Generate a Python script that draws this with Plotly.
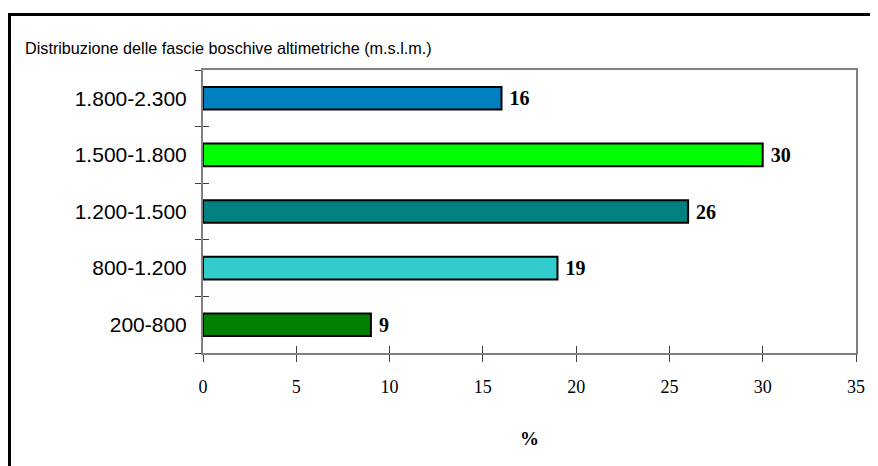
import plotly.graph_objects as go

# fasce altimetriche (dal basso verso l'alto)
fasce = ["200-800", "800-1.200", "1.200-1.500", "1.500-1.800", "1.800-2.300"]
percentuali = [9, 19, 26, 30, 16]
colori = ["#008000", "#33CCCC", "#008080", "#00FF00", "#0080C0"]

SANS = "Liberation Sans, Arial, sans-serif"
SERIF = "Liberation Serif, Times New Roman, serif"

# la pagina html ha 8px di margine: figura ridotta di 8px
W, H = 870, 458
L, R, T, B = 195, 22, 62, 113
PW, PH = W - L - R, H - T - B

fig = go.Figure()
fig.add_trace(go.Bar(
    x=percentuali, y=fasce, orientation="h", width=0.4,
    marker=dict(color=colori, line=dict(color="black", width=2)),
    texttemplate=" %{x}", textposition="outside",
    textfont=dict(family=SERIF, size=20, color="black", weight="bold"),
    cliponaxis=False, hoverinfo="skip",
))
# copia invisibile per le tacche interne degli assi
fig.add_trace(go.Bar(
    x=percentuali, y=fasce, orientation="h", width=0.4,
    marker=dict(color="rgba(0,0,0,0)", line=dict(width=0)),
    xaxis="x2", yaxis="y2", hoverinfo="skip", showlegend=False,
))

fig.update_layout(
    width=W, height=H,
    margin=dict(l=L, r=R, t=T, b=B),
    plot_bgcolor="white", paper_bgcolor="white",
    showlegend=False,
    title=dict(text="Distribuzione delle fascie boschive altimetriche (m.s.l.m.)",
               font=dict(family=SANS, size=16.2, color="black"),
               xref="container", x=17 / W, xanchor="left",
               yref="container", y=1 - 40 / H, yanchor="middle"),
    xaxis=dict(range=[0, 35], dtick=5, ticks="outside", ticklen=7,
               tickcolor="#404040", tickwidth=1,
               showline=True, linecolor="#808080", linewidth=2, mirror=True,
               showgrid=False, zeroline=False, ticklabelstandoff=9,
               tickfont=dict(family=SERIF, size=18, color="black"),
               title=dict(text="%", standoff=36,
                          font=dict(family=SERIF, size=19, color="black", weight="bold"))),
    yaxis=dict(categoryorder="array", categoryarray=fasce,
               ticks="outside", ticklen=6, tickson="boundaries",
               tickcolor="#404040", tickwidth=1,
               showline=True, linecolor="#808080", linewidth=2, mirror=True,
               showgrid=False, ticklabelstandoff=10,
               tickfont=dict(family=SANS, size=21, color="black")),
    xaxis2=dict(range=[0, 35], dtick=5, ticks="inside", ticklen=7,
                tickcolor="#404040", tickwidth=1, overlaying="x",
                side="bottom", showticklabels=False, showgrid=False,
                zeroline=False, showline=False),
    yaxis2=dict(categoryorder="array", categoryarray=fasce, overlaying="y",
                ticks="inside", ticklen=6, tickson="boundaries",
                tickcolor="#404040", tickwidth=1, showticklabels=False,
                showgrid=False, showline=False),
)

# cornice esterna nera
fig.add_shape(type="rect", xref="paper", yref="paper",
              x0=(1.5 - L) / PW, x1=(W + 20 - L) / PW,
              y0=-(B + 20) / PH, y1=(PH + T - 6.5) / PH,
              line=dict(color="black", width=3), layer="below")

fig.write_html("out.html")
